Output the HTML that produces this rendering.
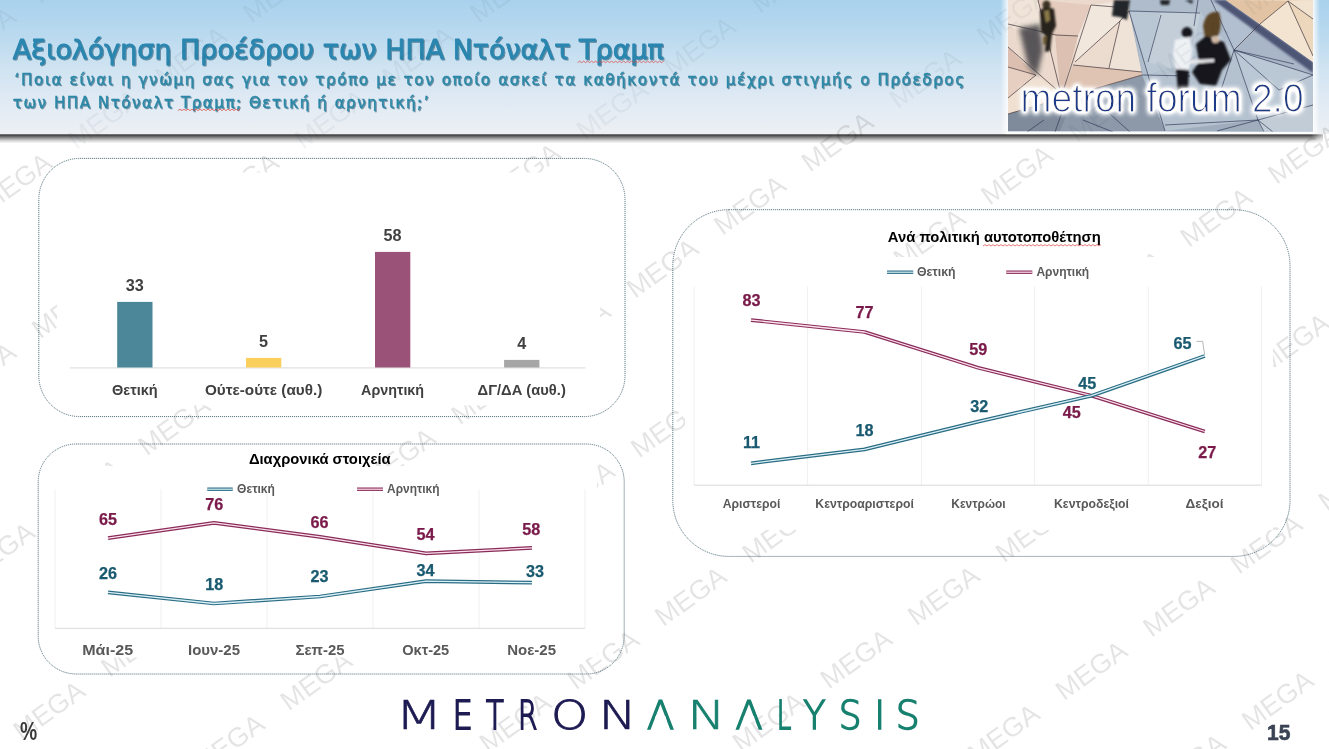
<!DOCTYPE html>
<html lang="el"><head><meta charset="utf-8"><title>Αξιολόγηση Προέδρου των ΗΠΑ Ντόναλτ Τραμπ</title>
<style>html,body{margin:0;padding:0;background:#fff}body{width:1329px;height:749px;overflow:hidden}svg{display:block}text{font-family:"Liberation Sans",sans-serif}</style></head><body>
<svg width="1329" height="749" viewBox="0 0 1329 749">
<defs>
<linearGradient id="hg" x1="0" y1="0" x2="0" y2="1">
<stop offset="0" stop-color="#a9d1ed"/><stop offset="0.25" stop-color="#b9d9ef"/><stop offset="0.5" stop-color="#cfe3f1"/><stop offset="0.75" stop-color="#e0eaf4"/><stop offset="0.93" stop-color="#e9eef4"/><stop offset="1" stop-color="#eef0f3"/>
</linearGradient>
<linearGradient id="sh" x1="0" y1="0" x2="0" y2="1">
<stop offset="0" stop-color="#000" stop-opacity="0.3"/><stop offset="0.085" stop-color="#000" stop-opacity="0.72"/><stop offset="0.16" stop-color="#000" stop-opacity="0.7"/><stop offset="0.42" stop-color="#000" stop-opacity="0.42"/><stop offset="0.66" stop-color="#000" stop-opacity="0.2"/><stop offset="0.9" stop-color="#000" stop-opacity="0.05"/><stop offset="1" stop-color="#000" stop-opacity="0"/>
</linearGradient>
<linearGradient id="fl" x1="0" y1="0" x2="1" y2="0"><stop offset="0" stop-color="#fff" stop-opacity="0"/><stop offset="1" stop-color="#fff" stop-opacity="0.85"/></linearGradient>
<linearGradient id="fr" x1="0" y1="0" x2="1" y2="0"><stop offset="0" stop-color="#fff" stop-opacity="0.9"/><stop offset="1" stop-color="#fff" stop-opacity="0"/></linearGradient>
<linearGradient id="she" x1="0" y1="0" x2="1" y2="0"><stop offset="0" stop-color="#fff" stop-opacity="0"/><stop offset="1" stop-color="#fff" stop-opacity="1"/></linearGradient>
<filter id="ts" x="-5%" y="-20%" width="110%" height="150%"><feDropShadow dx="1" dy="1" stdDeviation="0.7" flood-color="#0d3f5c" flood-opacity="0.55"/></filter>
<filter id="glow" x="-10%" y="-40%" width="120%" height="180%"><feGaussianBlur stdDeviation="2.2"/></filter>
<filter id="er2" x="-5%" y="-30%" width="110%" height="160%"><feGaussianBlur stdDeviation="0.7"/><feComponentTransfer><feFuncA type="linear" slope="4" intercept="-2.3"/></feComponentTransfer></filter>
<filter id="glow2" x="-10%" y="-40%" width="120%" height="180%"><feMorphology in="SourceAlpha" operator="dilate" radius="2" result="d"/><feGaussianBlur in="d" stdDeviation="2.7" result="bl"/><feFlood flood-color="#fff" flood-opacity="1"/><feComposite in2="bl" operator="in" result="gl"/><feComponentTransfer in="gl" result="gl2"><feFuncA type="linear" slope="1.9"/></feComponentTransfer><feMerge><feMergeNode in="gl2"/><feMergeNode in="SourceGraphic"/></feMerge></filter>
<filter id="b1"><feGaussianBlur stdDeviation="1.2"/></filter>
<filter id="b2"><feGaussianBlur stdDeviation="2.5"/></filter>
<clipPath id="pc"><rect x="1008" y="0" width="305" height="131.6"/></clipPath>
</defs>
<rect width="1329" height="749" fill="#fff"/>
<rect x="0" y="0" width="1329" height="134" fill="url(#hg)"/>
<rect x="0" y="134" width="1323" height="9.5" fill="url(#sh)"/>
<rect x="1311" y="133.9" width="18" height="10" fill="url(#she)"/>
<rect x="1000.5" y="0" width="7.6" height="134" fill="url(#fl)"/>
<rect x="1312.9" y="0" width="7" height="134" fill="url(#fr)"/>
<rect x="1006" y="131.5" width="309" height="2.6" fill="#fbfbfc"/>
<g clip-path="url(#pc)">
<rect x="1008" y="0" width="305" height="132" fill="#aebccb"/>
<!-- blue-gray shading -->
<polygon points="1129,11 1200,12 1233,50 1147,75" fill="#b9c6d4"/>
<polygon points="1160,13 1200,12 1190,75 1148,62" fill="#c3ced9"/>
<polygon points="1147,75 1233,50 1258,120 1165,131 " fill="#b4c1cf"/>
<polygon points="1233,50 1313,75 1313,105 1258,120" fill="#bac7d4"/>
<polygon points="1233,50 1260,24 1313,62 1313,75" fill="#a9b6c8"/>
<polygon points="1211,0 1226,0 1260,24 1233,50" fill="#b2bfd0"/>
<polygon points="1008,114 1142,75 1165,131 1008,131" fill="#8d99a9"/>
<polygon points="1008,114 1075,95 1060,131 1008,131" fill="#7f8b9b"/>
<polygon points="1258,120 1313,105 1313,132 1263,132" fill="#c2ccd6"/>
<polygon points="1165,131 1258,120 1263,132" fill="#9fadbd"/>
<!-- left beige area -->
<polygon points="1008,0 1128,0 1129,11 1142,75 1008,114" fill="#ead9cc"/>
<polygon points="1008,0 1038,0 1048,40 1008,26" fill="#f0e4d8"/>
<polygon points="1008,47 1036,75 1008,67" fill="#dcbfb0"/>
<polygon points="1008,67 1036,75 1008,98" fill="#e6cfc0"/>
<polygon points="1036,75 1057,90 1008,114 1008,98" fill="#efe0d2"/>
<polygon points="1038,0 1091,5 1078,36 1055,34 1048,40" fill="#e4cbbd"/>
<polygon points="1055,34 1078,36 1064,88 1060,90" fill="#dcc0b1"/>
<polygon points="1091,5 1128,0 1129,11 1120,21 1075,62 1078,36" fill="#f1e7dd"/>
<polygon points="1075,62 1120,21 1109,68 1073,65" fill="#ecdccf"/>
<polygon points="1120,21 1129,11 1142,75 1109,68" fill="#efe2d6"/>
<polygon points="1073,65 1142,72 1142,75 1064,98 1064,88" fill="#dfc3b3"/>
<!-- right beige triangle + shadow -->
<polygon points="1213,0 1226,0 1313,62 1313,73" fill="#4e5474" filter="url(#b1)"/>
<polygon points="1226,0 1313,0 1313,62" fill="#ecd6bc"/>
<polygon points="1288,1 1313,0 1313,19" fill="#f1e3cf"/>
<polygon points="1226,0 1288,1 1260,24" fill="#e2c4a4"/>
<polygon points="1288,1 1313,56 1313,62 1260,24" fill="#f3e4d2"/>
<g fill="none" stroke="#3b3037" stroke-width="0.8" stroke-opacity="0.85">
<path d="M1008 24 L1056 35 L1078 36"/>
<path d="M1091 5 L1064 88"/>
<path d="M1038 0 L1060 90"/>
<path d="M1008 47 L1057 90"/>
<path d="M1008 67 L1036 75 L1008 98"/>
<path d="M1091 5 L1128 8"/>
<path d="M1120 21 L1109 68"/>
<path d="M1073 65 L1142 72"/>
<path d="M1075 62 L1120 21 L1129 11"/>
<path d="M1008 114 L1142 75"/>
<path d="M1288 1 L1313 19 M1288 1 L1313 56 M1288 1 L1260 24 L1234 50"/>
</g>
<g fill="none" stroke="#2a3350" stroke-width="0.8" stroke-opacity="0.8">
<path d="M1129 11 L1200 13"/>
<path d="M1129 11 L1148 75 L1165 131"/>
<path d="M1161 15 L1148 62"/>
<path d="M1142 75 L1190 76"/>
<path d="M1211 0 L1234 50 L1258 120 L1264 132"/>
<path d="M1198 0 L1194 26"/>
<path d="M1234 50 L1313 75 M1234 50 L1294 64 M1234 50 L1279 90 L1313 75 M1234 50 L1221 90"/>
<path d="M1258 120 L1217 131 M1258 120 L1313 105 M1258 120 L1273 132 M1165 125 L1258 120"/>
<path d="M1044 120 L1027 132 M1062 112 L1055 132 M1083 120 L1113 132 M1100 105 L1130 132"/>
</g>
<!-- figures -->
<g filter="url(#b2)"><path d="M1019 28 L1040 24 L1043 50 L1037 76 L1028 66 Z" fill="#33343c" fill-opacity="0.8"/></g>
<g filter="url(#b1)">
<ellipse cx="1046.5" cy="5" rx="4" ry="4.5" fill="#3a3020"/>
<path d="M1040 10 Q1046 6 1054 9 L1056 26 L1052 34 L1050 51 L1045 52 L1046 36 L1041 32 Z" fill="#26221d"/>
<path d="M1044 11 L1049 10 L1050 20 L1046 23 Z" fill="#8b7a48"/>
<path d="M1043 36 L1047 36 L1046 44 L1043 45 Z" fill="#6a5a34"/>
<path d="M1114 0 L1130 0 L1127 20 L1120 17 L1112 16 Z" fill="#22252b"/>
<path d="M1160 0 L1170 0 L1169 5 L1161 5 Z" fill="#22252b"/>
<path d="M1185 0 L1193 0 L1192 4 Z" fill="#2b2f36"/>
<!-- figure 1 -->
<circle cx="1187" cy="32.5" r="5.4" fill="#14161c"/>
<path d="M1175 40 L1189 37 L1192 50 L1189 70 L1176 69 L1173 54 Z" fill="#eef1f4"/>
<path d="M1176 69 L1189 70 L1188 90 L1178 91 Z" fill="#16181d"/>
<!-- figure 2 -->
<path d="M1203 26 Q1206 10 1219 12 Q1223 24 1218 36 L1205 38 Z" fill="#5b4426"/>
<path d="M1196 44 L1206 36 L1224 42 L1231 60 L1222 70 L1216 86 L1200 84 L1192 72 L1199 62 Z" fill="#15161c"/>
<circle cx="1215.5" cy="39.5" r="3.6" fill="#d9c0aa"/>
<path d="M1190 60 L1214 59 L1214 62 L1190 64 Z" fill="#e8e8ea"/>
</g>
<!-- logo text -->
<mask id="thin" maskUnits="userSpaceOnUse" x="1008" y="60" width="305" height="72"><text x="1020.6" y="112" font-size="40" textLength="283" lengthAdjust="spacingAndGlyphs" fill="#fff" stroke="#000" stroke-width="1.15">metron forum 2.0</text></mask>
<g filter="url(#glow2)"><text x="1020.6" y="112" font-size="40" textLength="283" lengthAdjust="spacingAndGlyphs" fill="#1d3b88" mask="url(#thin)">metron forum 2.0</text></g>
</g>

<g filter="url(#ts)" style="font-family:'DejaVu Sans',sans-serif" stroke-linejoin="round">
<text x="12.8" y="59" font-size="26.7" fill="#2a86af" stroke="#2a86af" stroke-width="0.85" textLength="651" lengthAdjust="spacingAndGlyphs" style="font-family:'DejaVu Sans',sans-serif">Αξιολόγηση Προέδρου των ΗΠΑ Ντόναλτ Τραμπ</text>
<text x="14.6" y="84.8" font-size="15.1" fill="#2a88a7" stroke="#2a88a7" stroke-width="0.42" textLength="949.5" lengthAdjust="spacing" style="font-family:'DejaVu Sans',sans-serif">‘Ποια είναι η γνώμη σας για τον τρόπο με τον οποίο ασκεί τα καθήκοντά του μέχρι στιγμής ο Πρόεδρος</text>
<text x="12.8" y="107.8" font-size="15.1" fill="#2a88a7" stroke="#2a88a7" stroke-width="0.42" textLength="415.7" lengthAdjust="spacing" style="font-family:'DejaVu Sans',sans-serif">των ΗΠΑ Ντόναλτ Τραμπ; Θετική ή αρνητική;’</text>
</g>
<path d="M577.6 62.6 l2 -1.4 l2 1.4 l2 -1.4 l2 1.4 l2 -1.4 l2 1.4 l2 -1.4 l2 1.4 l2 -1.4 l2 1.4 l2 -1.4 l2 1.4 l2 -1.4 l2 1.4 l2 -1.4 l2 1.4 l2 -1.4 l2 1.4 l2 -1.4 l2 1.4 l2 -1.4 l2 1.4 l2 -1.4 l2 1.4 l2 -1.4 l2 1.4 l2 -1.4 l2 1.4 l2 -1.4 l2 1.4 l2 -1.4 l2 1.4 l2 -1.4 l2 1.4 l2 -1.4 l2 1.4 l2 -1.4 l2 1.4 l2 -1.4 l2 1.4 l2 -1.4 l2 1.4 l2 -1.4" fill="none" stroke="#e0403a" stroke-width="0.7"/><path d="M178 110.6 l2 -1.4 l2 1.4 l2 -1.4 l2 1.4 l2 -1.4 l2 1.4 l2 -1.4 l2 1.4 l2 -1.4 l2 1.4 l2 -1.4 l2 1.4 l2 -1.4 l2 1.4 l2 -1.4 l2 1.4 l2 -1.4 l2 1.4 l2 -1.4 l2 1.4 l2 -1.4 l2 1.4 l2 -1.4 l2 1.4 l2 -1.4 l2 1.4 l2 -1.4 l2 1.4 l2 -1.4 l2 1.4 l2 -1.4" fill="none" stroke="#e0403a" stroke-width="0.7"/><path d="M983 246 l2 -1.4 l2 1.4 l2 -1.4 l2 1.4 l2 -1.4 l2 1.4 l2 -1.4 l2 1.4 l2 -1.4 l2 1.4 l2 -1.4 l2 1.4 l2 -1.4 l2 1.4 l2 -1.4 l2 1.4 l2 -1.4 l2 1.4 l2 -1.4 l2 1.4 l2 -1.4 l2 1.4 l2 -1.4 l2 1.4 l2 -1.4 l2 1.4 l2 -1.4 l2 1.4 l2 -1.4 l2 1.4 l2 -1.4 l2 1.4 l2 -1.4 l2 1.4 l2 -1.4 l2 1.4 l2 -1.4 l2 1.4 l2 -1.4 l2 1.4 l2 -1.4 l2 1.4 l2 -1.4 l2 1.4 l2 -1.4 l2 1.4 l2 -1.4 l2 1.4 l2 -1.4 l2 1.4 l2 -1.4 l2 1.4 l2 -1.4 l2 1.4 l2 -1.4 l2 1.4 l2 -1.4 l2 1.4 l2 -1.4" fill="none" stroke="#e0403a" stroke-width="0.7"/>
<g fill="#1a2a3a" fill-opacity="0.05" font-size="27"><text transform="translate(76.3 150.2) rotate(-35.8)" textLength="80.5" lengthAdjust="spacingAndGlyphs">MEGA</text><text transform="translate(163.8 87.0) rotate(-35.8)" textLength="80.5" lengthAdjust="spacingAndGlyphs">MEGA</text><text transform="translate(251.4 23.8) rotate(-35.8)" textLength="80.5" lengthAdjust="spacingAndGlyphs">MEGA</text><text transform="translate(303.1 150.1) rotate(-35.8)" textLength="80.5" lengthAdjust="spacingAndGlyphs">MEGA</text><text transform="translate(390.6 86.9) rotate(-35.8)" textLength="80.5" lengthAdjust="spacingAndGlyphs">MEGA</text><text transform="translate(478.2 23.7) rotate(-35.8)" textLength="80.5" lengthAdjust="spacingAndGlyphs">MEGA</text><text transform="translate(584.7 140.5) rotate(-35.8)" textLength="80.5" lengthAdjust="spacingAndGlyphs">MEGA</text><text transform="translate(672.3 77.3) rotate(-35.8)" textLength="80.5" lengthAdjust="spacingAndGlyphs">MEGA</text><text transform="translate(759.8 14.1) rotate(-35.8)" textLength="80.5" lengthAdjust="spacingAndGlyphs">MEGA</text><text transform="translate(897.7 109.5) rotate(-35.8)" textLength="80.5" lengthAdjust="spacingAndGlyphs">MEGA</text><text transform="translate(985.3 46.3) rotate(-35.8)" textLength="80.5" lengthAdjust="spacingAndGlyphs">MEGA</text><text transform="translate(1077.1 142.9) rotate(-35.8)" textLength="80.5" lengthAdjust="spacingAndGlyphs">MEGA</text><text transform="translate(1164.7 79.7) rotate(-35.8)" textLength="80.5" lengthAdjust="spacingAndGlyphs">MEGA</text><text transform="translate(1252.3 16.5) rotate(-35.8)" textLength="80.5" lengthAdjust="spacingAndGlyphs">MEGA</text><text transform="translate(-47.5 67.5) rotate(-35.8)" textLength="80.5" lengthAdjust="spacingAndGlyphs">MEGA</text><text transform="translate(40.1 4.3) rotate(-35.8)" textLength="80.5" lengthAdjust="spacingAndGlyphs">MEGA</text></g>
<g fill="#000" fill-opacity="0.105" font-size="27"><text transform="translate(-11.3 213.3) rotate(-35.8)" textLength="80.5" lengthAdjust="spacingAndGlyphs">MEGA</text><text transform="translate(-47.3 402.8) rotate(-35.8)" textLength="80.5" lengthAdjust="spacingAndGlyphs">MEGA</text><text transform="translate(40.3 339.6) rotate(-35.8)" textLength="80.5" lengthAdjust="spacingAndGlyphs">MEGA</text><text transform="translate(127.9 276.4) rotate(-35.8)" textLength="80.5" lengthAdjust="spacingAndGlyphs">MEGA</text><text transform="translate(215.5 213.2) rotate(-35.8)" textLength="80.5" lengthAdjust="spacingAndGlyphs">MEGA</text><text transform="translate(-28.4 582.8) rotate(-35.8)" textLength="80.5" lengthAdjust="spacingAndGlyphs">MEGA</text><text transform="translate(59.1 519.6) rotate(-35.8)" textLength="80.5" lengthAdjust="spacingAndGlyphs">MEGA</text><text transform="translate(146.7 456.4) rotate(-35.8)" textLength="80.5" lengthAdjust="spacingAndGlyphs">MEGA</text><text transform="translate(234.3 393.2) rotate(-35.8)" textLength="80.5" lengthAdjust="spacingAndGlyphs">MEGA</text><text transform="translate(321.9 330.0) rotate(-35.8)" textLength="80.5" lengthAdjust="spacingAndGlyphs">MEGA</text><text transform="translate(409.5 266.9) rotate(-35.8)" textLength="80.5" lengthAdjust="spacingAndGlyphs">MEGA</text><text transform="translate(497.1 203.7) rotate(-35.8)" textLength="80.5" lengthAdjust="spacingAndGlyphs">MEGA</text><text transform="translate(-65.8 804.5) rotate(-35.8)" textLength="80.5" lengthAdjust="spacingAndGlyphs">MEGA</text><text transform="translate(21.8 741.3) rotate(-35.8)" textLength="80.5" lengthAdjust="spacingAndGlyphs">MEGA</text><text transform="translate(109.4 678.1) rotate(-35.8)" textLength="80.5" lengthAdjust="spacingAndGlyphs">MEGA</text><text transform="translate(197.0 615.0) rotate(-35.8)" textLength="80.5" lengthAdjust="spacingAndGlyphs">MEGA</text><text transform="translate(284.6 551.8) rotate(-35.8)" textLength="80.5" lengthAdjust="spacingAndGlyphs">MEGA</text><text transform="translate(372.2 488.6) rotate(-35.8)" textLength="80.5" lengthAdjust="spacingAndGlyphs">MEGA</text><text transform="translate(459.8 425.4) rotate(-35.8)" textLength="80.5" lengthAdjust="spacingAndGlyphs">MEGA</text><text transform="translate(547.3 362.2) rotate(-35.8)" textLength="80.5" lengthAdjust="spacingAndGlyphs">MEGA</text><text transform="translate(634.9 299.1) rotate(-35.8)" textLength="80.5" lengthAdjust="spacingAndGlyphs">MEGA</text><text transform="translate(722.5 235.9) rotate(-35.8)" textLength="80.5" lengthAdjust="spacingAndGlyphs">MEGA</text><text transform="translate(810.1 172.7) rotate(-35.8)" textLength="80.5" lengthAdjust="spacingAndGlyphs">MEGA</text><text transform="translate(201.2 774.7) rotate(-35.8)" textLength="80.5" lengthAdjust="spacingAndGlyphs">MEGA</text><text transform="translate(288.8 711.5) rotate(-35.8)" textLength="80.5" lengthAdjust="spacingAndGlyphs">MEGA</text><text transform="translate(376.4 648.3) rotate(-35.8)" textLength="80.5" lengthAdjust="spacingAndGlyphs">MEGA</text><text transform="translate(464.0 585.1) rotate(-35.8)" textLength="80.5" lengthAdjust="spacingAndGlyphs">MEGA</text><text transform="translate(551.6 521.9) rotate(-35.8)" textLength="80.5" lengthAdjust="spacingAndGlyphs">MEGA</text><text transform="translate(639.2 458.8) rotate(-35.8)" textLength="80.5" lengthAdjust="spacingAndGlyphs">MEGA</text><text transform="translate(726.7 395.6) rotate(-35.8)" textLength="80.5" lengthAdjust="spacingAndGlyphs">MEGA</text><text transform="translate(814.3 332.4) rotate(-35.8)" textLength="80.5" lengthAdjust="spacingAndGlyphs">MEGA</text><text transform="translate(901.9 269.2) rotate(-35.8)" textLength="80.5" lengthAdjust="spacingAndGlyphs">MEGA</text><text transform="translate(989.5 206.0) rotate(-35.8)" textLength="80.5" lengthAdjust="spacingAndGlyphs">MEGA</text><text transform="translate(400.5 816.7) rotate(-35.8)" textLength="80.5" lengthAdjust="spacingAndGlyphs">MEGA</text><text transform="translate(488.1 753.5) rotate(-35.8)" textLength="80.5" lengthAdjust="spacingAndGlyphs">MEGA</text><text transform="translate(575.7 690.4) rotate(-35.8)" textLength="80.5" lengthAdjust="spacingAndGlyphs">MEGA</text><text transform="translate(663.3 627.2) rotate(-35.8)" textLength="80.5" lengthAdjust="spacingAndGlyphs">MEGA</text><text transform="translate(750.8 564.0) rotate(-35.8)" textLength="80.5" lengthAdjust="spacingAndGlyphs">MEGA</text><text transform="translate(838.4 500.8) rotate(-35.8)" textLength="80.5" lengthAdjust="spacingAndGlyphs">MEGA</text><text transform="translate(926.0 437.6) rotate(-35.8)" textLength="80.5" lengthAdjust="spacingAndGlyphs">MEGA</text><text transform="translate(1013.6 374.5) rotate(-35.8)" textLength="80.5" lengthAdjust="spacingAndGlyphs">MEGA</text><text transform="translate(1101.2 311.3) rotate(-35.8)" textLength="80.5" lengthAdjust="spacingAndGlyphs">MEGA</text><text transform="translate(1188.8 248.1) rotate(-35.8)" textLength="80.5" lengthAdjust="spacingAndGlyphs">MEGA</text><text transform="translate(1276.4 184.9) rotate(-35.8)" textLength="80.5" lengthAdjust="spacingAndGlyphs">MEGA</text><text transform="translate(653.5 816.1) rotate(-35.8)" textLength="80.5" lengthAdjust="spacingAndGlyphs">MEGA</text><text transform="translate(741.1 752.9) rotate(-35.8)" textLength="80.5" lengthAdjust="spacingAndGlyphs">MEGA</text><text transform="translate(828.7 689.7) rotate(-35.8)" textLength="80.5" lengthAdjust="spacingAndGlyphs">MEGA</text><text transform="translate(916.3 626.5) rotate(-35.8)" textLength="80.5" lengthAdjust="spacingAndGlyphs">MEGA</text><text transform="translate(1003.9 563.4) rotate(-35.8)" textLength="80.5" lengthAdjust="spacingAndGlyphs">MEGA</text><text transform="translate(1091.5 500.2) rotate(-35.8)" textLength="80.5" lengthAdjust="spacingAndGlyphs">MEGA</text><text transform="translate(1179.0 437.0) rotate(-35.8)" textLength="80.5" lengthAdjust="spacingAndGlyphs">MEGA</text><text transform="translate(1266.6 373.8) rotate(-35.8)" textLength="80.5" lengthAdjust="spacingAndGlyphs">MEGA</text><text transform="translate(976.3 764.5) rotate(-35.8)" textLength="80.5" lengthAdjust="spacingAndGlyphs">MEGA</text><text transform="translate(1063.9 701.3) rotate(-35.8)" textLength="80.5" lengthAdjust="spacingAndGlyphs">MEGA</text><text transform="translate(1151.5 638.1) rotate(-35.8)" textLength="80.5" lengthAdjust="spacingAndGlyphs">MEGA</text><text transform="translate(1239.1 574.9) rotate(-35.8)" textLength="80.5" lengthAdjust="spacingAndGlyphs">MEGA</text><text transform="translate(1326.7 511.8) rotate(-35.8)" textLength="80.5" lengthAdjust="spacingAndGlyphs">MEGA</text><text transform="translate(1162.6 794.3) rotate(-35.8)" textLength="80.5" lengthAdjust="spacingAndGlyphs">MEGA</text><text transform="translate(1250.2 731.2) rotate(-35.8)" textLength="80.5" lengthAdjust="spacingAndGlyphs">MEGA</text><text transform="translate(1337.8 668.0) rotate(-35.8)" textLength="80.5" lengthAdjust="spacingAndGlyphs">MEGA</text></g>
<rect x="57" y="172.4" width="543" height="233" fill="#fff"/>
<rect x="46" y="466" width="551" height="191.5" fill="#fff"/>
<rect x="685" y="257" width="588" height="273" fill="#fff"/>
<rect x="38.8" y="158.4" width="586.2" height="258.20000000000005" rx="41" ry="41" fill="none" stroke="#3a5c69" stroke-width="0.85" stroke-dasharray="1.1 0.9"/>
<rect x="38.2" y="444" width="586.0" height="230" rx="38" ry="38" fill="none" stroke="#3a5c69" stroke-width="0.85" stroke-dasharray="1.1 0.9"/>
<rect x="672.8" y="209.7" width="617.2" height="346.7" rx="56" ry="56" fill="none" stroke="#3a5c69" stroke-width="0.85" stroke-dasharray="1.1 0.9"/>
<line x1="70" y1="367.9" x2="585.5" y2="367.9" stroke="#d9d9d9" stroke-width="1"/>
<rect x="117.2" y="301.9" width="35.3" height="65.6" fill="#4b8799"/>
<text x="134.8" y="290.5" font-size="16.2" fill="#404040" text-anchor="middle" font-weight="700">33</text>
<text x="134.8" y="394.9" font-size="14.6" fill="#404040" text-anchor="middle" font-weight="700" textLength="45.6" lengthAdjust="spacingAndGlyphs">Θετική</text>
<rect x="246" y="357.9" width="35.3" height="9.6" fill="#fbcf5b"/>
<text x="263.6" y="346.5" font-size="16.2" fill="#404040" text-anchor="middle" font-weight="700">5</text>
<text x="263.6" y="394.9" font-size="14.6" fill="#404040" text-anchor="middle" font-weight="700" textLength="117.4" lengthAdjust="spacingAndGlyphs">Ούτε-ούτε (αυθ.)</text>
<rect x="375" y="251.9" width="35.3" height="115.6" fill="#9b5278"/>
<text x="392.6" y="240.49999999999997" font-size="16.2" fill="#404040" text-anchor="middle" font-weight="700">58</text>
<text x="392.6" y="394.9" font-size="14.6" fill="#404040" text-anchor="middle" font-weight="700" textLength="63" lengthAdjust="spacingAndGlyphs">Αρνητική</text>
<rect x="504.1" y="359.9" width="35.3" height="7.6" fill="#a6a6a6"/>
<text x="521.7" y="348.5" font-size="16.2" fill="#404040" text-anchor="middle" font-weight="700">4</text>
<text x="521.7" y="394.9" font-size="14.6" fill="#404040" text-anchor="middle" font-weight="700" textLength="88.2" lengthAdjust="spacingAndGlyphs">ΔΓ/ΔΑ (αυθ.)</text>
<line x1="55" y1="489" x2="55" y2="628.3" stroke="#f0f0f0" stroke-width="1"/>
<line x1="161" y1="489" x2="161" y2="628.3" stroke="#f0f0f0" stroke-width="1"/>
<line x1="267" y1="489" x2="267" y2="628.3" stroke="#f0f0f0" stroke-width="1"/>
<line x1="373" y1="489" x2="373" y2="628.3" stroke="#f0f0f0" stroke-width="1"/>
<line x1="479" y1="489" x2="479" y2="628.3" stroke="#f0f0f0" stroke-width="1"/>
<line x1="585" y1="489" x2="585" y2="628.3" stroke="#f0f0f0" stroke-width="1"/>
<line x1="55" y1="628.3" x2="585" y2="628.3" stroke="#d9d9d9" stroke-width="1"/>
<path d="M108.0 538.1 L214.0 522.9 L320.0 536.8 L426.0 553.4 L532.0 547.9" fill="none" stroke="#8a2a5a" stroke-width="3.7" stroke-linejoin="round"/>
<path d="M108.0 538.1 L214.0 522.9 L320.0 536.8 L426.0 553.4 L532.0 547.9" fill="none" stroke="#fbe3ec" stroke-width="1.3" stroke-linejoin="round"/>
<path d="M108.0 592.4 L214.0 603.5 L320.0 596.5 L426.0 581.2 L532.0 582.6" fill="none" stroke="#2a6c84" stroke-width="3.7" stroke-linejoin="round"/>
<path d="M108.0 592.4 L214.0 603.5 L320.0 596.5 L426.0 581.2 L532.0 582.6" fill="none" stroke="#d9f0f6" stroke-width="1.3" stroke-linejoin="round"/>
<text x="107.9" y="525.4" font-size="16.2" font-weight="700" fill="#7a1a4a" stroke="#7a1a4a" stroke-width="0.25" text-anchor="middle">65</text>
<text x="214.3" y="510.3" font-size="16.2" font-weight="700" fill="#7a1a4a" stroke="#7a1a4a" stroke-width="0.25" text-anchor="middle">76</text>
<text x="319.6" y="528.2" font-size="16.2" font-weight="700" fill="#7a1a4a" stroke="#7a1a4a" stroke-width="0.25" text-anchor="middle">66</text>
<text x="425.5" y="539.8" font-size="16.2" font-weight="700" fill="#7a1a4a" stroke="#7a1a4a" stroke-width="0.25" text-anchor="middle">54</text>
<text x="531.3" y="535" font-size="16.2" font-weight="700" fill="#7a1a4a" stroke="#7a1a4a" stroke-width="0.25" text-anchor="middle">58</text>
<text x="107.9" y="579.2" font-size="16.2" font-weight="700" fill="#1a5a70" stroke="#1a5a70" stroke-width="0.25" text-anchor="middle">26</text>
<text x="214.3" y="589.8" font-size="16.2" font-weight="700" fill="#1a5a70" stroke="#1a5a70" stroke-width="0.25" text-anchor="middle">18</text>
<text x="319.6" y="582.3" font-size="16.2" font-weight="700" fill="#1a5a70" stroke="#1a5a70" stroke-width="0.25" text-anchor="middle">23</text>
<text x="425.5" y="576" font-size="16.2" font-weight="700" fill="#1a5a70" stroke="#1a5a70" stroke-width="0.25" text-anchor="middle">34</text>
<text x="535" y="577" font-size="16.2" font-weight="700" fill="#1a5a70" stroke="#1a5a70" stroke-width="0.25" text-anchor="middle">33</text>
<text x="107.7" y="655.2" font-size="15.5" fill="#595959" text-anchor="middle" font-weight="700" textLength="51" lengthAdjust="spacingAndGlyphs">Μάι-25</text>
<text x="214" y="655.2" font-size="15.5" fill="#595959" text-anchor="middle" font-weight="700" textLength="52" lengthAdjust="spacingAndGlyphs">Ιουν-25</text>
<text x="320" y="655.2" font-size="15.5" fill="#595959" text-anchor="middle" font-weight="700" textLength="49" lengthAdjust="spacingAndGlyphs">Σεπ-25</text>
<text x="425.7" y="655.2" font-size="15.5" fill="#595959" text-anchor="middle" font-weight="700" textLength="47.1" lengthAdjust="spacingAndGlyphs">Οκτ-25</text>
<text x="531.6" y="655.2" font-size="15.5" fill="#595959" text-anchor="middle" font-weight="700" textLength="48.8" lengthAdjust="spacingAndGlyphs">Νοε-25</text>
<text x="319.8" y="464.4" font-size="15" fill="#000" text-anchor="middle" font-weight="700" textLength="141.8" lengthAdjust="spacingAndGlyphs">Διαχρονικά στοιχεία</text>
<path d="M207.3 489.2 L232.7 489.2" fill="none" stroke="#2a6c84" stroke-width="3.4" stroke-linejoin="round"/>
<path d="M207.3 489.2 L232.7 489.2" fill="none" stroke="#d9f0f6" stroke-width="1.2" stroke-linejoin="round"/>
<text x="237.1" y="493.2" font-size="12.6" fill="#595959" font-weight="700" textLength="37.8" lengthAdjust="spacingAndGlyphs">Θετική</text>
<path d="M357.0 489.2 L383.0 489.2" fill="none" stroke="#8a2a5a" stroke-width="3.4" stroke-linejoin="round"/>
<path d="M357.0 489.2 L383.0 489.2" fill="none" stroke="#fbe3ec" stroke-width="1.2" stroke-linejoin="round"/>
<text x="387.1" y="493.2" font-size="12.6" fill="#595959" font-weight="700" textLength="52.4" lengthAdjust="spacingAndGlyphs">Αρνητική</text>
<line x1="694" y1="286.5" x2="694" y2="485.2" stroke="#f0f0f0" stroke-width="1"/>
<line x1="807.6" y1="286.5" x2="807.6" y2="485.2" stroke="#f0f0f0" stroke-width="1"/>
<line x1="921.4" y1="286.5" x2="921.4" y2="485.2" stroke="#f0f0f0" stroke-width="1"/>
<line x1="1034.6" y1="286.5" x2="1034.6" y2="485.2" stroke="#f0f0f0" stroke-width="1"/>
<line x1="1148.3" y1="286.5" x2="1148.3" y2="485.2" stroke="#f0f0f0" stroke-width="1"/>
<line x1="1261.5" y1="286.5" x2="1261.5" y2="485.2" stroke="#f0f0f0" stroke-width="1"/>
<line x1="694" y1="485.2" x2="1261.5" y2="485.2" stroke="#d9d9d9" stroke-width="1"/>
<path d="M751.0 320.1 L864.6 332.0 L978.2 367.8 L1091.6 395.7 L1204.8 431.5" fill="none" stroke="#8a2a5a" stroke-width="3.7" stroke-linejoin="round"/>
<path d="M751.0 320.1 L864.6 332.0 L978.2 367.8 L1091.6 395.7 L1204.8 431.5" fill="none" stroke="#fbe3ec" stroke-width="1.3" stroke-linejoin="round"/>
<path d="M751.0 463.3 L864.6 449.4 L978.2 421.6 L1091.6 395.7 L1204.8 355.9" fill="none" stroke="#2a6c84" stroke-width="3.7" stroke-linejoin="round"/>
<path d="M751.0 463.3 L864.6 449.4 L978.2 421.6 L1091.6 395.7 L1204.8 355.9" fill="none" stroke="#d9f0f6" stroke-width="1.3" stroke-linejoin="round"/>
<path d="M1196.6 341.4 L1202.6 341.4 L1204.7 354.5" fill="none" stroke="#a6a6a6" stroke-width="0.8"/>
<text x="751.5" y="305.7" font-size="16.2" font-weight="700" fill="#7a1a4a" stroke="#7a1a4a" stroke-width="0.25" text-anchor="middle">83</text>
<text x="864.4" y="317.7" font-size="16.2" font-weight="700" fill="#7a1a4a" stroke="#7a1a4a" stroke-width="0.25" text-anchor="middle">77</text>
<text x="978.2" y="355" font-size="16.2" font-weight="700" fill="#7a1a4a" stroke="#7a1a4a" stroke-width="0.25" text-anchor="middle">59</text>
<text x="1071.8" y="417.6" font-size="16.2" font-weight="700" fill="#7a1a4a" stroke="#7a1a4a" stroke-width="0.25" text-anchor="middle">45</text>
<text x="1207.2" y="457.9" font-size="16.2" font-weight="700" fill="#7a1a4a" stroke="#7a1a4a" stroke-width="0.25" text-anchor="middle">27</text>
<text x="751.5" y="448" font-size="16.2" font-weight="700" fill="#1a5a70" stroke="#1a5a70" stroke-width="0.25" text-anchor="middle">11</text>
<text x="864.4" y="435.5" font-size="16.2" font-weight="700" fill="#1a5a70" stroke="#1a5a70" stroke-width="0.25" text-anchor="middle">18</text>
<text x="979.3" y="411.9" font-size="16.2" font-weight="700" fill="#1a5a70" stroke="#1a5a70" stroke-width="0.25" text-anchor="middle">32</text>
<text x="1087.2" y="388.6" font-size="16.2" font-weight="700" fill="#1a5a70" stroke="#1a5a70" stroke-width="0.25" text-anchor="middle">45</text>
<text x="1182.4" y="348.8" font-size="16.2" font-weight="700" fill="#1a5a70" stroke="#1a5a70" stroke-width="0.25" text-anchor="middle">65</text>
<text x="751.5" y="507.5" font-size="13.1" fill="#595959" text-anchor="middle" font-weight="700" textLength="57.6" lengthAdjust="spacingAndGlyphs">Αριστεροί</text>
<text x="864.6" y="507.5" font-size="13.1" fill="#595959" text-anchor="middle" font-weight="700" textLength="98.5" lengthAdjust="spacingAndGlyphs">Κεντροαριστεροί</text>
<text x="978.5" y="507.5" font-size="13.1" fill="#595959" text-anchor="middle" font-weight="700" textLength="54.3" lengthAdjust="spacingAndGlyphs">Κεντρώοι</text>
<text x="1091.5" y="507.5" font-size="13.1" fill="#595959" text-anchor="middle" font-weight="700" textLength="75" lengthAdjust="spacingAndGlyphs">Κεντροδεξιοί</text>
<text x="1204.5" y="507.5" font-size="13.1" fill="#595959" text-anchor="middle" font-weight="700" textLength="38" lengthAdjust="spacingAndGlyphs">Δεξιοί</text>
<text x="994.3" y="242.3" font-size="15" fill="#000" text-anchor="middle" font-weight="700" textLength="213" lengthAdjust="spacingAndGlyphs">Ανά πολιτική αυτοτοποθέτηση</text>
<path d="M887.0 272.2 L913.2 272.2" fill="none" stroke="#2a6c84" stroke-width="3.4" stroke-linejoin="round"/>
<path d="M887.0 272.2 L913.2 272.2" fill="none" stroke="#d9f0f6" stroke-width="1.2" stroke-linejoin="round"/>
<text x="916.9" y="276.3" font-size="12.6" fill="#595959" font-weight="700" textLength="38.6" lengthAdjust="spacingAndGlyphs">Θετική</text>
<path d="M1006.3 272.2 L1032.3 272.2" fill="none" stroke="#8a2a5a" stroke-width="3.4" stroke-linejoin="round"/>
<path d="M1006.3 272.2 L1032.3 272.2" fill="none" stroke="#fbe3ec" stroke-width="1.2" stroke-linejoin="round"/>
<text x="1036.4" y="276.3" font-size="12.6" fill="#595959" font-weight="700" textLength="52.8" lengthAdjust="spacingAndGlyphs">Αρνητική</text>
<g font-size="38.3" text-anchor="middle" stroke-width="1.4" style="font-family:'DejaVu Sans Light','DejaVu Sans',sans-serif">
<text y="728.7" fill="#1d1b52" stroke="#1d1b52" style="font-family:'DejaVu Sans Light','DejaVu Sans',sans-serif"><tspan x="418.9" textLength="47.9" lengthAdjust="spacingAndGlyphs" stroke-width="0.5">M</tspan><tspan x="462.7" textLength="20.35" lengthAdjust="spacingAndGlyphs" stroke-width="1.85">E</tspan><tspan x="494.9" textLength="17.78" lengthAdjust="spacingAndGlyphs" stroke-width="1.9">T</tspan><tspan x="527.6" textLength="19.42" lengthAdjust="spacingAndGlyphs" stroke-width="1.9">R</tspan><tspan x="569.6" textLength="37.27" lengthAdjust="spacingAndGlyphs" stroke-width="0.85">O</tspan><tspan x="617.6" textLength="38.32" lengthAdjust="spacingAndGlyphs" stroke-width="0.65">N</tspan></text>
<text y="728.7" fill="#17806f" stroke="#17806f" style="font-family:'DejaVu Sans Light','DejaVu Sans',sans-serif"><tspan x="660.5" textLength="27.61" lengthAdjust="spacingAndGlyphs" stroke-width="1.25">A</tspan><tspan x="706.4" textLength="38.32" lengthAdjust="spacingAndGlyphs" stroke-width="0.65">N</tspan><tspan x="749" textLength="27.61" lengthAdjust="spacingAndGlyphs" stroke-width="1.25">A</tspan><tspan x="784.1" textLength="14.49" lengthAdjust="spacingAndGlyphs" stroke-width="1.9">L</tspan><tspan x="814.4" textLength="22.28" lengthAdjust="spacingAndGlyphs" stroke-width="1.5">Y</tspan><tspan x="850.2" textLength="22.67" lengthAdjust="spacingAndGlyphs" stroke-width="1.55">S</tspan><tspan x="879.7" textLength="11.45" lengthAdjust="spacingAndGlyphs" stroke-width="1.35">I</tspan><tspan x="907.6" textLength="23.90" lengthAdjust="spacingAndGlyphs" stroke-width="1.55">S</tspan></text>
</g>
<!-- crossbar cover --><path d="M655.7 716 L665.3 716 L667.2 721.6 L653.8 721.6 Z M744.2 716 L753.8 716 L755.7 721.6 L742.3 721.6 Z" fill="#fff"/>
<text x="20" y="739.6" font-size="25.5" font-weight="700" fill="#3a3a3a" textLength="17.2" lengthAdjust="spacingAndGlyphs">%</text>
<text x="1267" y="739.6" font-size="21.8" font-weight="700" fill="#394354" textLength="23.4" lengthAdjust="spacingAndGlyphs" stroke="#394354" stroke-width="0.6">15</text>

</svg></body></html>
